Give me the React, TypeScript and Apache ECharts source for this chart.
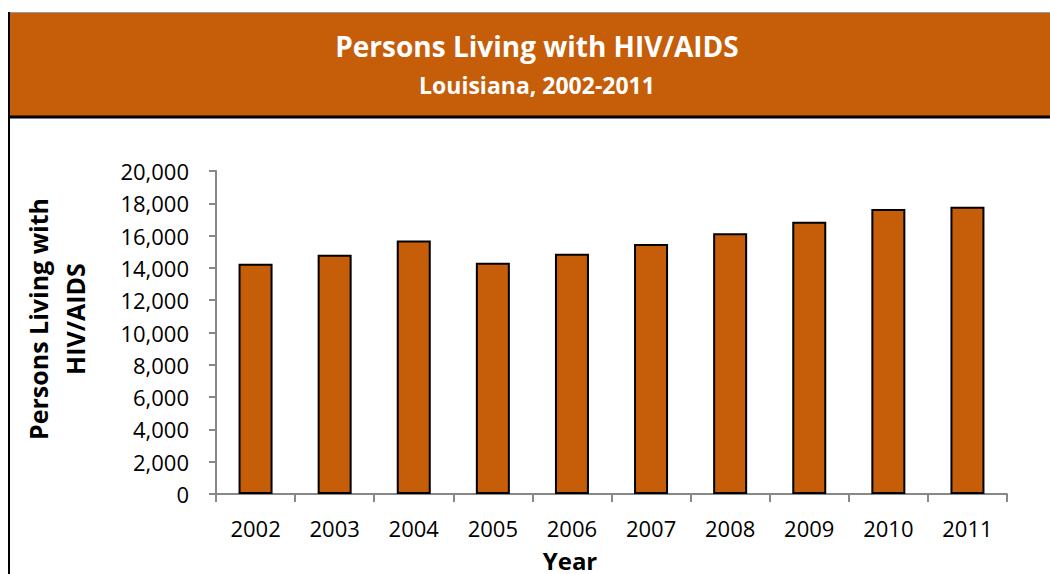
import React, { useEffect, useRef } from "react";
import * as echarts from "echarts";

const years = ["2002", "2003", "2004", "2005", "2006", "2007", "2008", "2009", "2010", "2011"];
const persons = [14250, 14820, 15690, 14320, 14880, 15480, 16140, 16850, 17650, 17790];
const titleText = "Persons Living with HIV/AIDS";
const subtitleText = "Louisiana, 2002-2011";
const yTitle = "Persons Living with\nHIV/AIDS";
const xTitle = "Year";

const ORANGE = "#C65D09";
const FONT = "'Open Sans', 'DejaVu Sans', sans-serif";

export default function App() {
  const ref = useRef<HTMLDivElement>(null);
  useEffect(() => {
    if (!ref.current) return;
    const chart = echarts.init(ref.current, undefined, { renderer: "svg" });
    chart.setOption({
      animation: false,
      backgroundColor: "#ffffff",
      grid: { left: 216, top: 171, right: 43, bottom: 80, containLabel: false },
      xAxis: {
        type: "category",
        data: years,
        axisLine: { lineStyle: { color: "#888888", width: 2 } },
        axisTick: { show: true, length: 8, lineStyle: { color: "#888888", width: 2 } },
        axisLabel: { color: "#000", fontSize: 22, fontFamily: FONT, margin: 23 },
      },
      yAxis: {
        type: "value",
        min: 0,
        max: 20000,
        interval: 2000,
        splitLine: { show: false },
        axisLine: { show: true, lineStyle: { color: "#888888", width: 2 } },
        axisTick: { show: true, length: 7, lineStyle: { color: "#888888", width: 2 } },
        axisLabel: {
          color: "#000",
          fontSize: 22,
          fontFamily: FONT,
          margin: 27,
          formatter: (v: number) => v.toLocaleString("en-US"),
        },
      },
      series: [
        {
          type: "bar",
          data: persons,
          barWidth: 34,
          itemStyle: { color: ORANGE, borderColor: "#000", borderWidth: 2 },
        },
      ],
      graphic: [
        { type: "rect", shape: { x: 9, y: 12, width: 1050, height: 105 }, style: { fill: ORANGE, stroke: "none" }, z: 10 },
        { type: "line", shape: { x1: 9, y1: 12.5, x2: 1050, y2: 12.5 }, style: { stroke: "#999999", lineWidth: 1 }, z: 11 },
        { type: "line", shape: { x1: 9, y1: 117, x2: 1050, y2: 117 }, style: { stroke: "#000", lineWidth: 3 }, z: 11 },
        { type: "line", shape: { x1: 9, y1: 12, x2: 9, y2: 574 }, style: { stroke: "#000", lineWidth: 2 }, z: 11 },
        {
          type: "text", x: 537, y: 46, z: 12,
          style: { text: titleText, fill: "#fff", font: `bold 28px ${FONT}`, textAlign: "center", textVerticalAlign: "middle" },
        },
        {
          type: "text", x: 537, y: 85, z: 12,
          style: { text: subtitleText, fill: "#fff", font: `bold 23px ${FONT}`, textAlign: "center", textVerticalAlign: "middle" },
        },
        {
          type: "text", x: 56, y: 319, rotation: Math.PI / 2, z: 12,
          style: { text: yTitle, fill: "#000", font: `bold 25px ${FONT}`, lineHeight: 37, textAlign: "center", textVerticalAlign: "middle" },
        },
        {
          type: "text", x: 570, y: 560, z: 12,
          style: { text: xTitle, fill: "#000", font: `bold 24px ${FONT}`, textAlign: "center", textVerticalAlign: "middle" },
        },
      ],
    });
    return () => chart.dispose();
  }, []);
  return <div ref={ref} style={{ position: "fixed", left: 0, top: 0, width: 1050, height: 574 }} />;
}
